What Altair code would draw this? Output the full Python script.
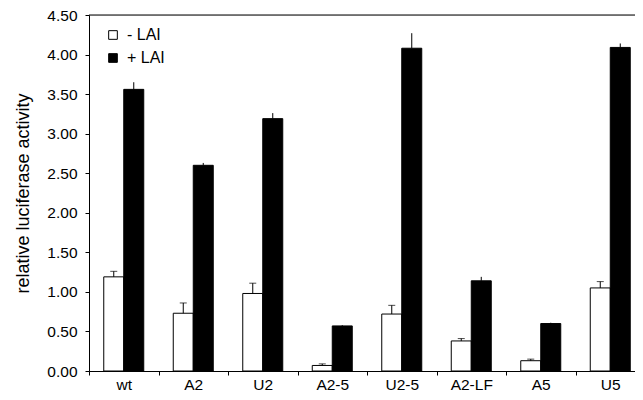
import altair as alt
import pandas as pd

categories = ["wt", "A2", "U2", "A2-5", "U2-5", "A2-LF", "A5", "U5"]
series_names = ["- LAI", "+ LAI"]
minus_vals = [1.19, 0.73, 0.98, 0.07, 0.72, 0.38, 0.13, 1.05]
minus_err = [0.07, 0.13, 0.13, 0.02, 0.11, 0.03, 0.02, 0.08]
plus_vals = [3.56, 2.60, 3.19, 0.57, 4.08, 1.14, 0.60, 4.09]
plus_err = [0.09, 0.03, 0.07, 0.01, 0.19, 0.05, 0.01, 0.05]
y_ticks = [0, 0.5, 1.0, 1.5, 2.0, 2.5, 3.0, 3.5, 4.0, 4.5]

rows = []
for i, c in enumerate(categories):
    rows.append({"cat": c, "series": series_names[0], "value": minus_vals[i],
                 "top": minus_vals[i] + minus_err[i]})
    rows.append({"cat": c, "series": series_names[1], "value": plus_vals[i],
                 "top": plus_vals[i] + plus_err[i]})
df = pd.DataFrame(rows)
frame_df = pd.DataFrame({"v": [y_ticks[-1]]})

FONT = "Liberation Sans"
FS = 15.5

x_axis = alt.Axis(title=None, labelAngle=0, tickBand="extent",
                  tickSize=4, labelPadding=2, labelFontSize=FS,
                  labelFont=FONT, labelColor="black",
                  domainColor="black", tickColor="black")
y_axis = alt.Axis(title="relative luciferase activity", values=y_ticks,
                  format=".2f", grid=False, tickSize=4, labelPadding=8,
                  labelOverlap=False, labelFontSize=FS, labelFont=FONT,
                  labelColor="black", titleFont=FONT, titleFontSize=18,
                  titleFontWeight="normal", titleColor="black",
                  titlePadding=14, domainColor="black", tickColor="black")

x_scale = alt.Scale(paddingInner=0, paddingOuter=0, range=[0, 556])
x_enc = alt.X("cat:N", sort=categories, scale=x_scale, axis=x_axis)
xo_enc = alt.XOffset("series:N", sort=series_names,
                     scale=alt.Scale(domain=series_names, paddingInner=0,
                                     paddingOuter=0.7375))
y_scale = alt.Scale(domain=[0, 4.5], nice=False, zero=True)

bars = alt.Chart(df).mark_bar(stroke="black", strokeWidth=1).encode(
    x=x_enc,
    xOffset=xo_enc,
    y=alt.Y("value:Q", scale=y_scale, axis=y_axis),
    fill=alt.Fill("series:N",
                  scale=alt.Scale(domain=series_names, range=["white", "black"]),
                  legend=alt.Legend(title=None, orient="none", legendX=16, legendY=12,
                                    symbolType="square", symbolSize=75,
                                    symbolStrokeColor="black", symbolStrokeWidth=1,
                                    labelFont=FONT, labelFontSize=16,
                                    labelColor="black", rowPadding=7,
                                    labelOffset=6)),
)

rules = alt.Chart(df).mark_rule(color="black", strokeWidth=1).encode(
    x=x_enc, xOffset=xo_enc,
    y=alt.Y("value:Q", scale=y_scale, axis=y_axis),
    y2="top:Q",
)

caps = alt.Chart(df).transform_filter(
    alt.datum.series == series_names[0]
).mark_tick(color="black", thickness=1, size=7, orient="horizontal").encode(
    x=x_enc, xOffset=xo_enc,
    y=alt.Y("top:Q", scale=y_scale, axis=y_axis),
)

top_line = alt.Chart(frame_df).mark_rule(color="black", strokeWidth=1).encode(
    y=alt.Y("v:Q", scale=y_scale, axis=y_axis),
)

chart = alt.layer(bars, rules, caps, top_line).properties(
    width=546, height=356,
    padding={"left": 81, "top": 7, "right": 0, "bottom": 21},
    autosize=alt.AutoSizeParams(type="none"),
).configure_view(stroke=None).configure(background="white")

chart.save("out.html", embed_options={"renderer": "svg", "actions": False})
